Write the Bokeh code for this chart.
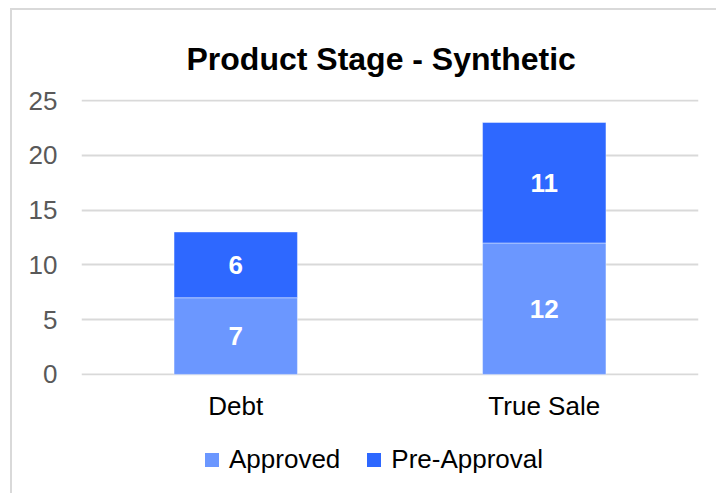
from bokeh.plotting import figure
from bokeh.models import (ColumnDataSource, FactorRange, Range1d, Legend, LegendItem,
                          LabelSet, FixedTicker, Div, Spacer)
from bokeh.layouts import column, row
from bokeh.core.properties import value
from bokeh.embed import file_html
from bokeh.resources import INLINE

categories = ["Debt", "True Sale"]
approved = [7, 12]
pre_approval = [6, 11]
y_ticks = [0, 5, 10, 15, 20, 25]
series_names = ["Approved", "Pre-Approval"]

FONT = "Liberation Sans"
C_APP = "#6B97FF"
C_PRE = "#2E68FF"
BORDER = "#d9d9d9"

PW = 704
PH = 420
LH = 55

p = figure(width=PW, height=PH, output_backend="svg", toolbar_location=None,
           x_range=FactorRange(factors=categories, range_padding=0),
           y_range=Range1d(-0.1, 25.1),
           min_border_left=69, min_border_right=18, min_border_top=89, min_border_bottom=55,
           title="Product Stage - Synthetic")
p.outline_line_color = None
p.background_fill_color = "white"
p.border_fill_color = "white"

p.title.text_font = FONT
p.title.text_font_size = "32px"
p.title.text_font_style = "bold"
p.title.text_color = "black"
p.title.align = "left"
p.title.offset = 105
p.title.standoff = 46

src = ColumnDataSource(dict(
    x=categories,
    app_top=approved,
    pre_bottom=approved,
    pre_top=[a + b for a, b in zip(approved, pre_approval)],
    app_mid=[a / 2 for a in approved],
    pre_mid=[a + b / 2 for a, b in zip(approved, pre_approval)],
    app_lbl=[str(v) for v in approved],
    pre_lbl=[str(v) for v in pre_approval],
))

p.vbar(x="x", bottom=0, top="app_top", width=0.4, source=src,
       fill_color=C_APP, line_color="white", line_alpha=0.4, line_width=1)
p.vbar(x="x", bottom="pre_bottom", top="pre_top", width=0.4, source=src,
       fill_color=C_PRE, line_color="white", line_alpha=0.4, line_width=1)

for col, lbl in (("app_mid", "app_lbl"), ("pre_mid", "pre_lbl")):
    p.add_layout(LabelSet(x="x", y=col, text=lbl, source=src,
                          text_align="center", text_baseline="middle",
                          text_font=value(FONT), text_font_size="26px",
                          text_font_style="bold", text_color="white"))

p.xgrid.grid_line_color = None
p.ygrid.grid_line_color = BORDER
p.ygrid.grid_line_width = 2
p.ygrid.ticker = FixedTicker(ticks=y_ticks)

p.yaxis.ticker = FixedTicker(ticks=y_ticks)
p.yaxis.axis_line_color = None
p.yaxis.major_tick_line_color = None
p.yaxis.minor_tick_line_color = None
p.yaxis.major_label_standoff = 18
p.yaxis.major_label_text_font = FONT
p.yaxis.major_label_text_font_size = "26px"
p.yaxis.major_label_text_color = "#595959"

p.xaxis.axis_line_color = None
p.xaxis.major_tick_line_color = None
p.xaxis.minor_tick_line_color = None
p.xaxis.major_label_standoff = 9
p.xaxis.major_label_text_font = FONT
p.xaxis.major_label_text_font_size = "26px"
p.xaxis.major_label_text_color = "black"

# legend strip below the chart
p2 = figure(width=PW, height=LH, output_backend="svg", toolbar_location=None,
            x_range=Range1d(0, 1), y_range=Range1d(0, 1),
            x_axis_location=None, y_axis_location=None,
            min_border_left=0, min_border_right=0, min_border_top=0, min_border_bottom=0)
p2.outline_line_color = None
p2.grid.visible = False
p2.background_fill_color = "white"
p2.border_fill_color = "white"
dummy = ColumnDataSource(dict(x=[0.5], y=[0.5]))
d1 = p2.scatter(x="x", y="y", source=dummy, marker="square", size=14,
                fill_color=C_APP, line_color=None, visible=False)
d2 = p2.scatter(x="x", y="y", source=dummy, marker="square", size=14,
                fill_color=C_PRE, line_color=None, visible=False)
legend = Legend(items=[LegendItem(label=series_names[0], renderers=[d1]),
                       LegendItem(label=series_names[1], renderers=[d2])],
                orientation="horizontal", location=(113, 8),
                label_text_font=FONT, label_text_font_size="26px", label_text_color="black",
                glyph_width=35, glyph_height=35, label_height=35, label_standoff=0, spacing=16,
                border_line_color=None, background_fill_alpha=0, padding=0, margin=0)
p2.add_layout(legend, "center")

top_strip = Div(width=PW + 2, height=2, margin=0, styles={"background-color": BORDER})
left_strip = Div(width=2, height=PH + LH + 8, margin=0, styles={"background-color": BORDER})

layout = column(
    Spacer(width=10, height=8, margin=0),
    row(Spacer(width=10, height=2, margin=0), top_strip),
    row(Spacer(width=10, height=PH + LH + 8, margin=0), left_strip, column(p, p2)),
)

open("out.html", "w").write(file_html(layout, INLINE))
